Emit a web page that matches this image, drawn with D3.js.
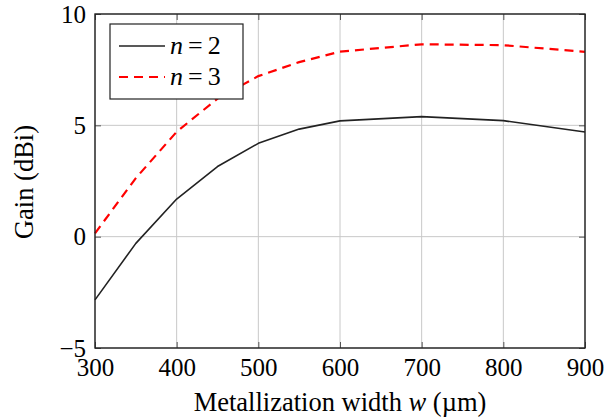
<!DOCTYPE html>
<html><head><meta charset="utf-8">
<script src="https://cdn.jsdelivr.net/npm/d3@7"></script>
<style>body{margin:0;background:#fff}svg{display:block}</style>
</head><body><svg id="c" width="607" height="420" style="font-family:'Liberation Serif'"></svg>
<script>
const widths = [300, 350, 400, 450, 500, 550, 600, 700, 800, 900];
const gainN2 = [-2.84, -0.3, 1.69, 3.15, 4.19, 4.83, 5.2, 5.39, 5.21, 4.7];
const gainN3 = [0.15, 2.63, 4.71, 6.2, 7.21, 7.84, 8.31, 8.64, 8.6, 8.3];
const xTicks = [300, 400, 500, 600, 700, 800, 900];
const yTicks = [-5, 0, 5, 10];
const seriesNames = ["2", "3"];

const FONT = '"Liberation Serif"';
const svg = d3.select("#c");
const m = {l:95, r:585, t:14, b:348};
const x = d3.scaleLinear().domain([300, 900]).range([m.l, m.r]);
const y = d3.scaleLinear().domain([-5, 10]).range([m.b, m.t]);

// grid
svg.append("g").selectAll("line").data(xTicks).join("line")
  .attr("x1", d=>x(d)).attr("x2", d=>x(d)).attr("y1", m.t).attr("y2", m.b)
  .attr("stroke", "#c8c8c8").attr("stroke-width", 1);
svg.append("g").selectAll("line").data(yTicks).join("line")
  .attr("y1", d=>y(d)).attr("y2", d=>y(d)).attr("x1", m.l).attr("x2", m.r)
  .attr("stroke", "#c8c8c8").attr("stroke-width", 1);

// axes with inward ticks on all sides
const tl = 6;
const gBottom = svg.append("g").attr("transform", `translate(0,${m.b})`)
  .call(d3.axisBottom(x).tickValues(xTicks).tickSizeInner(-tl).tickSizeOuter(0).tickPadding(10));
const gTop = svg.append("g").attr("transform", `translate(0,${m.t})`)
  .call(d3.axisTop(x).tickValues(xTicks).tickSizeInner(-tl).tickSizeOuter(0).tickFormat(""));
const gLeft = svg.append("g").attr("transform", `translate(${m.l},0)`)
  .call(d3.axisLeft(y).tickValues(yTicks).tickSizeInner(-tl).tickSizeOuter(0).tickPadding(10).tickFormat(d=> d<0 ? "\u2212"+Math.abs(d) : d));
const gRight = svg.append("g").attr("transform", `translate(${m.r},0)`)
  .call(d3.axisRight(y).tickValues(yTicks).tickSizeInner(-tl).tickSizeOuter(0).tickFormat(""));
[gBottom, gTop, gLeft, gRight].forEach(g => {
  g.attr("font-family", null).attr("font-size", null);
  g.select(".domain").remove();
  g.selectAll(".tick line").attr("stroke", "#555").attr("stroke-width", 1);
  g.selectAll("text").style("font-family", FONT).style("font-size", "25px").attr("fill", "#000");
});
gBottom.selectAll("text").attr("dy", "0.71em").attr("y", 10);
gLeft.selectAll("text").attr("x", -9).attr("dy", "0.32em");

// lines
const line = d3.line().x((d,i)=>x(widths[i])).y(d=>y(d));
svg.append("path").datum(gainN2).attr("d", line).attr("fill","none")
  .attr("stroke","#222").attr("stroke-width",1.6).attr("stroke-linejoin","round");
svg.append("path").datum(gainN3).attr("d", line).attr("fill","none")
  .attr("stroke","#ff0000").attr("stroke-width",2.2).attr("stroke-dasharray","9,6");

// frame
svg.append("rect").attr("x", m.l).attr("y", m.t).attr("width", m.r-m.l).attr("height", m.b-m.t)
  .attr("fill","none").attr("stroke","#222").attr("stroke-width",1.4);

// legend
const lg = svg.append("g");
lg.append("rect").attr("x",110).attr("y",24).attr("width",133).attr("height",75)
  .attr("fill","#fff").attr("stroke","#222").attr("stroke-width",1.2);
const styles = [{c:"#222", w:1.6, d:null}, {c:"#ff0000", w:2.2, d:"9,6"}];
seriesNames.forEach((s,i)=>{
  const yy = 46 + i*31;
  lg.append("line").attr("x1",119).attr("x2",165).attr("y1",yy).attr("y2",yy)
    .attr("stroke",styles[i].c).attr("stroke-width",styles[i].w).attr("stroke-dasharray",styles[i].d);
  const t = lg.append("text").attr("x",170).attr("y",yy+8).style("font-family",FONT).style("font-size","26px");
  t.append("tspan").style("font-style","italic").text("n");
  t.append("tspan").attr("dx",5).text("=");
  t.append("tspan").attr("dx",5).text(s);
});

// axis labels
svg.append("text").attr("x", 340).attr("y", 411).attr("text-anchor","middle").style("font-family",FONT).style("font-size","26.5px")
  .call(t=>{t.append("tspan").text("Metallization width ");
            t.append("tspan").style("font-style","italic").text("w");
            t.append("tspan").text(" (\u00b5m)");});
svg.append("text").attr("transform","translate(33,182) rotate(-90)").attr("text-anchor","middle").style("font-family",FONT).style("font-size","26.5px")
  .text("Gain (dBi)");
</script></body></html>
